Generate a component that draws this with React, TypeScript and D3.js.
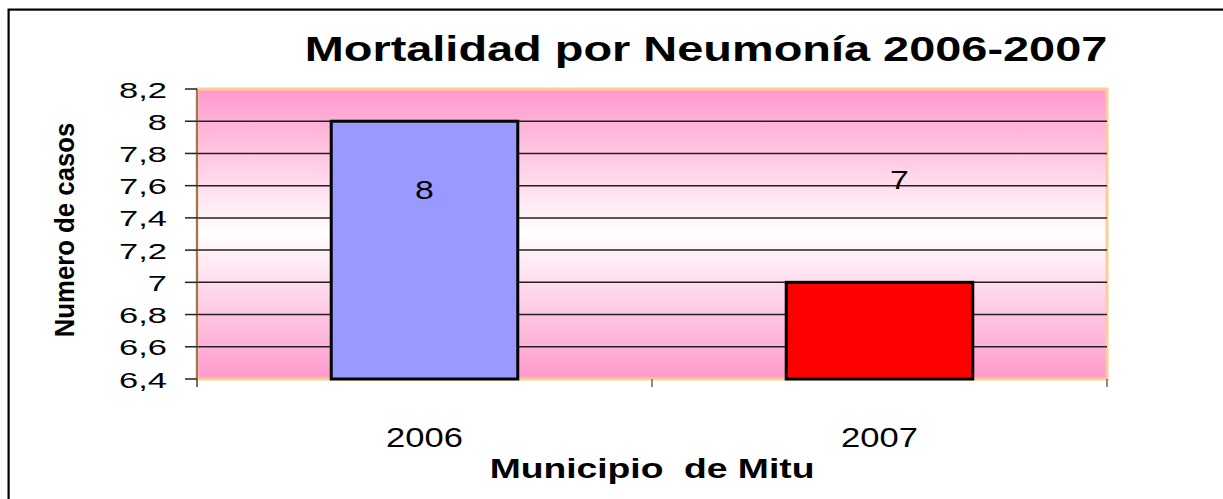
import React from "react";
import * as d3 from "d3";

const categories = ["2006", "2007"];
const values = [8, 7];
const barColors = ["#9999FF", "#FF0000"];
const yTicks = [6.4, 6.6, 6.8, 7, 7.2, 7.4, 7.6, 7.8, 8, 8.2];
const labelBaseline = [7.52, 7.58];
const labelDx = [0, 20];
const title = "Mortalidad por Neumonía 2006-2007";
const xTitle = "Municipio  de Mitu";
const yTitle = "Numero de casos";

const W = 1223;
const H = 499;
const plot = { left: 197, right: 1107, top: 89, bottom: 379 };

const fmt = (v: number) => String(Math.round(v * 10) / 10).replace(".", ",");

function SText(props: {
  x: number; y: number; size: number; sx: number; anchor?: string; bold?: boolean; rotate?: number; children: any;
}) {
  const { x, y, size, sx, anchor = "middle", bold = false, rotate = 0, children } = props;
  return (
    <text
      transform={`translate(${x},${y}) rotate(${rotate}) scale(${sx},1)`}
      textAnchor={anchor}
      fontFamily="'Liberation Sans', Arial, sans-serif"
      fontSize={size}
      fontWeight={bold ? "bold" : "normal"}
      fill="#000"
      style={{ whiteSpace: "pre" }}
    >
      {children}
    </text>
  );
}

export default function App() {
  const x = d3.scaleBand<string>().domain(categories).range([plot.left, plot.right]).padding(0);
  const y = d3.scaleLinear().domain([6.4, 8.2]).range([plot.bottom, plot.top]);
  const barW = x.bandwidth() * 0.41;
  const gridTicks = yTicks.filter((t) => t > 6.45 && t < 8.15);

  return (
    <svg width={W} height={H} style={{ position: "absolute", left: 0, top: 0, background: "#fff" }}>
      <defs>
        <linearGradient id="bg" x1="0" y1="0" x2="0" y2="1">
          <stop offset="0%" stopColor="#FF99CC" />
          <stop offset="50%" stopColor="#FFFFFF" />
          <stop offset="100%" stopColor="#FF99CC" />
        </linearGradient>
      </defs>
      {/* outer frame */}
      <rect x={9.5} y={10.5} width={1240} height={520} fill="none" stroke="#999" strokeWidth={1} />
      <rect x={8.5} y={9.5} width={1240} height={520} fill="none" stroke="#000" strokeWidth={2} />

      {/* plot background */}
      <rect
        x={plot.left}
        y={plot.top}
        width={plot.right - plot.left}
        height={plot.bottom - plot.top}
        fill="url(#bg)"
        stroke="#FFCC99"
        strokeWidth={3}
      />

      {/* gridlines */}
      {gridTicks.map((t) => (
        <line key={t} x1={plot.left} x2={plot.right} y1={y(t)} y2={y(t)} stroke="#222" strokeWidth={1.5} />
      ))}

      {/* y axis */}
      <line x1={plot.left} x2={plot.left} y1={plot.top} y2={plot.bottom + 8} stroke="#7a5a40" strokeWidth={1.5} />
      {yTicks.map((t) => (
        <g key={t}>
          <line x1={plot.left - 12} x2={plot.left} y1={y(t)} y2={y(t)} stroke="#222" strokeWidth={1.5} />
          <SText x={167} y={y(t) + 8.5} size={23} sx={1.5} anchor="end">
            {fmt(t)}
          </SText>
        </g>
      ))}

      {/* x axis ticks */}
      {[plot.left, ...categories.map((c) => (x(c) as number) + x.bandwidth())].map((px, i) => (
        <line key={i} x1={px} x2={px} y1={plot.bottom} y2={plot.bottom + 8} stroke="#666" strokeWidth={1.5} />
      ))}

      {/* bars */}
      {categories.map((c, i) => {
        const cx = (x(c) as number) + x.bandwidth() / 2;
        return (
          <rect
            key={c}
            x={cx - barW / 2}
            y={y(values[i])}
            width={barW}
            height={y(6.4) - y(values[i])}
            fill={barColors[i]}
            stroke="#000"
            strokeWidth={3}
          />
        );
      })}

      {/* data labels */}
      {categories.map((c, i) => {
        const cx = (x(c) as number) + x.bandwidth() / 2 + labelDx[i];
        return (
          <SText key={c} x={cx} y={y(labelBaseline[i])} size={26} sx={1.3}>
            {values[i]}
          </SText>
        );
      })}

      {/* x labels */}
      {categories.map((c) => (
        <SText key={c} x={(x(c) as number) + x.bandwidth() / 2} y={447} size={27} sx={1.28}>
          {c}
        </SText>
      ))}

      {/* titles */}
      <SText x={706} y={61} size={35} sx={1.34} bold>
        {title}
      </SText>
      <SText x={652} y={478} size={27} sx={1.38} bold>
        {xTitle}
      </SText>
      <SText x={74} y={230} size={28} sx={0.92} bold rotate={-90}>
        {yTitle}
      </SText>
    </svg>
  );
}
